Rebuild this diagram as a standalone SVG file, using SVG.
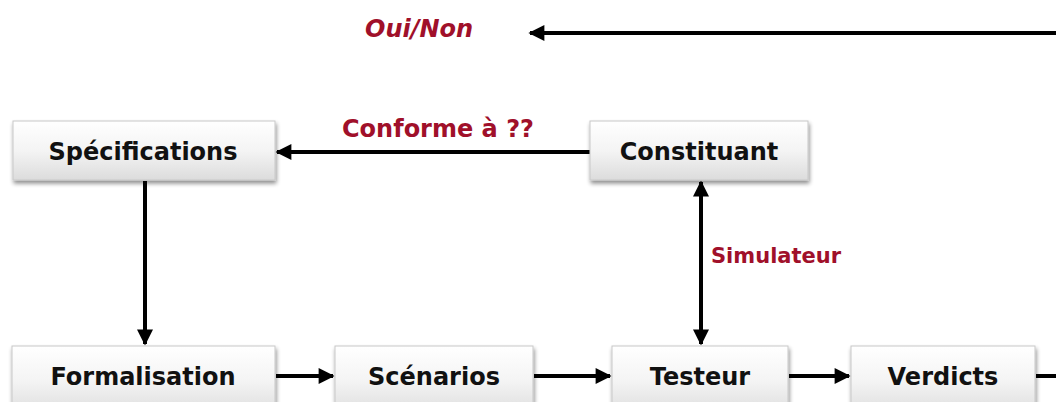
<svg xmlns="http://www.w3.org/2000/svg" width="1056" height="402" viewBox="0 0 1056 402">
<defs>
<linearGradient id="g" x1="0" y1="0" x2="0" y2="1">
<stop offset="0" stop-color="#ffffff"/>
<stop offset="0.5" stop-color="#f4f4f4"/>
<stop offset="1" stop-color="#dcdcdc"/>
</linearGradient>
<filter id="sh" x="-10%" y="-10%" width="125%" height="140%">
<feGaussianBlur in="SourceAlpha" stdDeviation="2"/>
<feOffset dx="1" dy="3"/>
<feComponentTransfer><feFuncA type="linear" slope="0.45"/></feComponentTransfer>
<feMerge><feMergeNode/><feMergeNode in="SourceGraphic"/></feMerge>
</filter>
<marker id="ah" viewBox="0 0 10 10" refX="9" refY="5" markerWidth="4.3" markerHeight="4" orient="auto-start-reverse" markerUnits="strokeWidth">
<path d="M0,0 L10,5 L0,10 z" fill="#000"/>
</marker>
</defs>
<style>
.box{fill:url(#g);stroke:#c8c8c8;stroke-width:1;filter:url(#sh)}
.lbl{font-family:"DejaVu Sans",sans-serif;font-weight:bold;font-size:24px;fill:#111;text-anchor:middle}
.red{font-family:"DejaVu Sans",sans-serif;font-weight:bold;fill:#a0102a}
.c{stroke:#000;stroke-width:4;fill:none}
</style>
<rect width="1056" height="402" fill="#fff"/>
<g id="connectors">
<line class="c" x1="1056" y1="33" x2="530" y2="33" marker-end="url(#ah)"/>
<line class="c" x1="590" y1="152" x2="277" y2="152" marker-end="url(#ah)"/>
<line class="c" x1="145" y1="181" x2="145" y2="344" marker-end="url(#ah)"/>
<line class="c" x1="701" y1="182" x2="701" y2="344" marker-start="url(#ah)" marker-end="url(#ah)"/>
<line class="c" x1="276" y1="376" x2="333" y2="376" marker-end="url(#ah)"/>
<line class="c" x1="534" y1="376" x2="610" y2="376" marker-end="url(#ah)"/>
<line class="c" x1="789" y1="376" x2="849" y2="376" marker-end="url(#ah)"/>
<line class="c" x1="1036" y1="376" x2="1056" y2="376"/>
</g>
<g id="oui-non"><text class="red" x="365" y="37" font-size="24" font-style="italic">Oui/Non</text></g>
<g id="conforme"><text class="red" x="342" y="137" font-size="24">Conforme à ??</text></g>
<g id="simulateur"><text class="red" x="711" y="263" font-size="21">Simulateur</text></g>
<g id="specifications"><rect class="box" x="13" y="121" width="262" height="59"/><text class="lbl" x="143" y="160">Spécifications</text></g>
<g id="constituant"><rect class="box" x="590" y="121" width="218" height="59"/><text class="lbl" x="699" y="160">Constituant</text></g>
<g id="formalisation"><rect class="box" x="12" y="346" width="263" height="70"/><text class="lbl" x="143" y="385">Formalisation</text></g>
<g id="scenarios"><rect class="box" x="335" y="346" width="198" height="70"/><text class="lbl" x="434" y="385">Scénarios</text></g>
<g id="testeur"><rect class="box" x="612" y="346" width="176" height="70"/><text class="lbl" x="700" y="385">Testeur</text></g>
<g id="verdicts"><rect class="box" x="851" y="346" width="184" height="70"/><text class="lbl" x="943" y="385">Verdicts</text></g>
</svg>
